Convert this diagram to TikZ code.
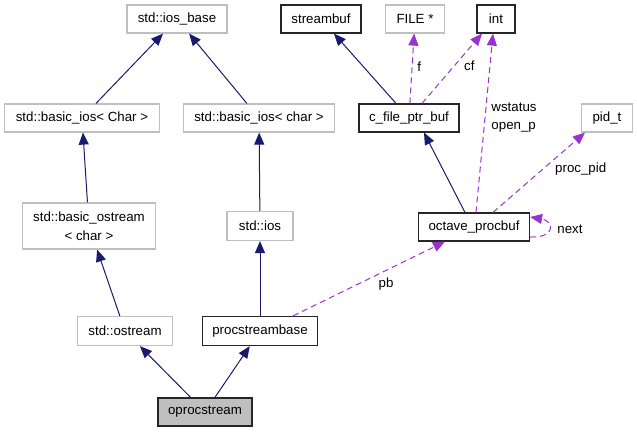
\documentclass[tikz,border=0pt]{standalone}
\usepackage{fontspec}
\setmainfont{Liberation Sans}
\usetikzlibrary{arrows.meta}
\definecolor{edgeblue}{HTML}{191970}
\definecolor{edgepurple}{HTML}{9A32CD}
\definecolor{boxgray}{HTML}{BFBFBF}

\begin{document}
\begin{tikzpicture}[x=1pt,y=-1pt,
	font=\fontsize{13.3}{18.5}\selectfont,
	cls/.style={draw=black!85,line width=1.2pt,minimum height=28pt,inner sep=0pt,align=center},
	ext/.style={draw=boxgray,line width=1.2pt,minimum height=28pt,inner sep=0pt,align=center},
	inh/.style={edgeblue,line width=1pt,-{Triangle[length=12pt,width=10pt]}},
	use/.style={edgepurple,line width=1pt,dash pattern=on 6pt off 4pt,-{Triangle[length=12pt,width=10pt]}},
	lbl/.style={inner sep=0pt,align=left,text=black}]
	\useasboundingbox (0,0) rectangle (637,432);

	\node[ext,minimum width=100pt] (iosbase) at (177,19) {std::ios\_base};
	\node[cls,minimum width=80pt] (streambuf) at (321,19) {streambuf};
	\node[ext,minimum width=59pt] (file) at (415,19) {FILE *};
	\node[cls,minimum width=38pt] (int) at (496,19) {int};
	\node[ext,minimum width=155pt] (basiciosC) at (82,118) {std::basic\_ios< Char >};
	\node[ext,minimum width=151pt] (basiciosc) at (259,118) {std::basic\_ios< char >};
	\node[cls,minimum width=100pt] (cfile) at (409,118) {c\_file\_ptr\_buf};
	\node[ext,minimum width=51pt] (pid) at (607,118) {pid\_t};
	\node[ext,minimum width=133pt,minimum height=46pt] (basicostream) at (89,226) {std::basic\_ostream\\< char >};
	\node[ext,minimum width=66pt,minimum height=29pt] (ios) at (260,226) {std::ios};
	\node[cls,minimum width=111pt] (procbuf) at (474,227) {octave\_procbuf};
	\node[ext,minimum width=95pt,minimum height=29pt] (ostream) at (125,331) {std::ostream};
	\node[cls,minimum width=115pt,minimum height=29pt] (psb) at (260,331) {procstreambase};
	\node[cls,fill=boxgray,minimum width=94pt] (oproc) at (205,412) {oprocstream};

	\draw[inh] (basiciosC) -- (iosbase);
	\draw[inh] (basiciosc) -- (iosbase);
	\draw[inh] (basicostream) -- (basiciosC);
	\draw[inh] (ios) -- (basiciosc);
	\draw[inh] (ostream) -- (basicostream);
	\draw[inh] (psb) -- (ios);
	\draw[inh] (oproc) -- (ostream);
	\draw[inh] (oproc) -- (psb);
	\draw[inh] (cfile) -- (streambuf);
	\draw[inh] ([xshift=-9pt]procbuf.north) -- ([xshift=15pt]cfile.south);

	\draw[use] (cfile) -- (file) node[lbl,pos=0.53,xshift=7pt] {f};
	\draw[use] ([xshift=13pt]cfile.north) -- ([xshift=-14pt]int.south) node[lbl,pos=0.54,xshift=15pt] {cf};
	\draw[use] ([xshift=2pt]procbuf.north) -- ([xshift=-3pt]int.south) node[lbl,pos=0.53,xshift=29pt] {wstatus\\open\_p};
	\draw[use] ([xshift=19pt]procbuf.north) -- ([xshift=-22pt]pid.south) node[lbl,pos=0.54,xshift=38pt] {proc\_pid};
	\draw[use] ([xshift=33pt]psb.north) -- ([xshift=-29pt]procbuf.south) node[lbl,pos=0.5,xshift=17pt,yshift=-5pt] {pb};
	\draw[use] ([yshift=-10pt]procbuf.east) .. controls +(26,1) and +(24,4) .. ([yshift=10pt]procbuf.east) node[lbl,pos=0.5,right=8pt] {next};

\end{tikzpicture}
\end{document}
